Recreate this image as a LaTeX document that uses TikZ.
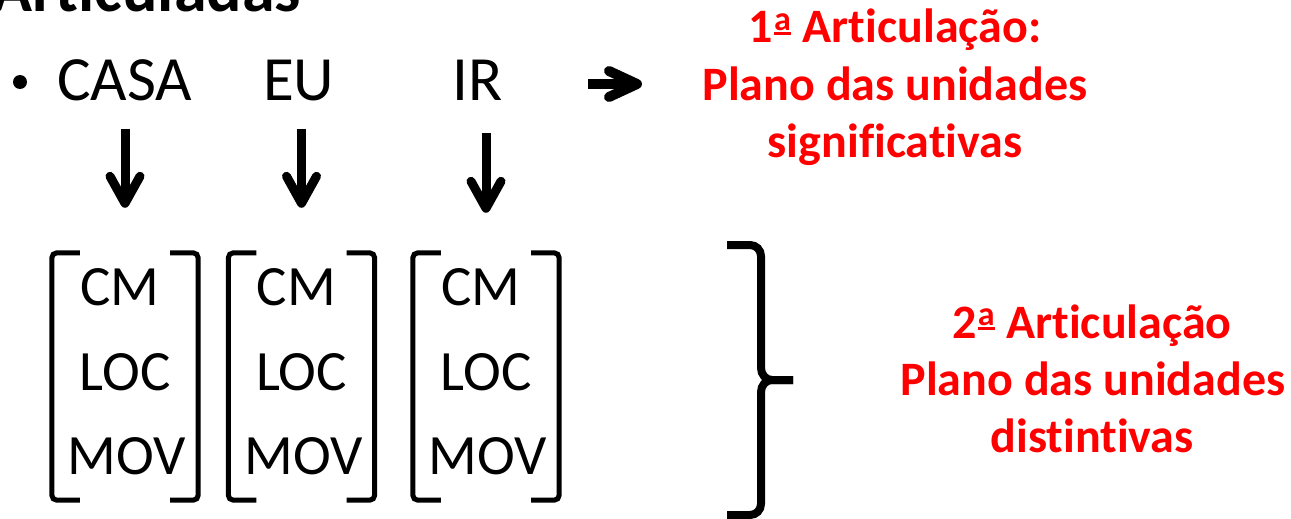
\documentclass[tikz,border=0pt]{standalone}
\usepackage{fontspec}
\setmainfont{Carlito}[Ligatures={NoCommon}]
\usetikzlibrary{arrows.meta}
\definecolor{redtxt}{RGB}{255,0,0}
\newcommand\ordA{\hspace{1pt}\raisebox{0.16em}{\vbox{\hbox{\fontsize{34}{34}\selectfont a}\kern1.5pt\hrule height 3.5pt}}\hspace{1pt}}
\begin{document}
\begin{tikzpicture}[x=1pt,y=-1pt,
  bigtxt/.style={font=\fontsize{63}{74}\selectfont, inner sep=0, anchor=base west},
  cmtxt/.style={font=\fontsize{57}{68}\selectfont, inner sep=0, anchor=base},
  redline/.style={font=\bfseries\fontsize{48}{57}\selectfont, text=redtxt, inner sep=0, anchor=base},
  ttl/.style={font=\bfseries\fontsize{66}{78}\selectfont, inner sep=0, anchor=base west},
  boxn/.style={minimum width=146, minimum height=247, inner sep=0, draw=none},
  brk/.style={line width=5pt, rounded corners=5pt},
  dnarrow/.style={line width=9pt, -{Straight Barb[length=27pt, width=30pt, round]}},
  rtarrow/.style={line width=10pt, -{Straight Barb[length=28pt, width=26pt, round]}},
  bracestyle/.style={line width=8pt}
]
\useasboundingbox (0,0) rectangle (1291,519);
\clip (0,0) rectangle (1291,519);

% partially visible title
\node[ttl] (titulo) at (-8,12) {Articuladas};

% bullet line
\fill (20,82) circle[radius=7];
\node[bigtxt] (casa) at (57,100) {CASA};
\node[bigtxt] (eu) at (263,100) {EU};
\node[bigtxt] (ir) at (452,100) {IR};

% bracket boxes
\node[boxn] (b1) at (125,376.5) {};
\node[boxn] (b2) at (301.5,376.5) {};
\node[boxn] (b3) at (486,376.5) {};

\foreach \b in {b1,b2,b3}{
  \draw[brk] ([xshift=28pt]\b.north west) -- (\b.north west) -- (\b.south west) -- ([xshift=28pt]\b.south west);
  \draw[brk] ([xshift=-28pt]\b.north east) -- (\b.north east) -- (\b.south east) -- ([xshift=-28pt]\b.south east);
}

\foreach \b/\x in {b1/125,b2/301.5,b3/486}{
  \node[cmtxt] (\b cm) at (\x-5,305) {CM};
  \node[cmtxt] (\b loc) at (\x,390) {LOC};
  \node[cmtxt] (\b mov) at (\x+2,474) {MOV};
}

% down arrows
\draw[dnarrow, shorten <=28pt, shorten >=45pt] (b1.north |- casa.south) -- (b1.north);
\draw[dnarrow, shorten <=28pt, shorten >=45pt] (b2.north |- eu.south) -- (b2.north);
\draw[dnarrow, shorten <=33pt, shorten >=40pt] (b3.north |- ir.south) -- (b3.north);

% red texts, block 1
\node[redline] (a1l1) at (895,43) {1\ordA{} Articulação:};
\node[redline] (a1l2) at (895,100) {Plano das unidades};
\node[redline] (a1l3) at (895,157) {significativas};

% right arrow
\coordinate (ra1) at (588,84);
\coordinate (ra2) at (642,84);
\draw[rtarrow] (ra1) -- (ra2);

% red texts, block 2
\node[redline] (a2l1) at (1092,338) {2\ordA{} Articulação};
\node[redline] (a2l2) at (1093,395) {Plano das unidades};
\node[redline] (a2l3) at (1092,452) {distintivas};

% big brace
\draw[bracestyle] (727,245) -- (750,245) to[out=0,in=90] (761,256) -- (761,368)
   to[out=-90,in=180] (772,380) -- (793,380);
\draw[bracestyle] (793,380) -- (772,380) to[out=180,in=90] (761,392) -- (761,504)
   to[out=-90,in=0] (750,515) -- (727,515);
\end{tikzpicture}
\end{document}
